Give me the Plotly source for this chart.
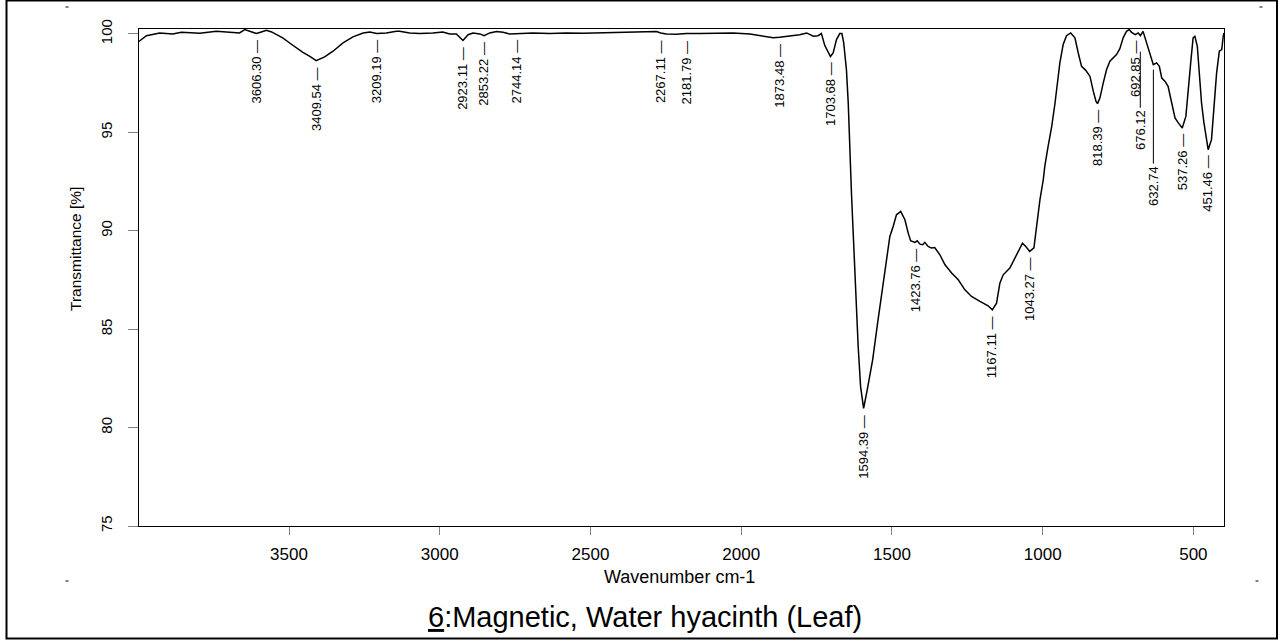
import plotly.graph_objects as go

# ---------------- data ----------------
wavenumber = [
    3998, 3973, 3929, 3886, 3857, 3796, 3741, 3687, 3664, 3647, 3620, 3608, 3592, 3575, 3558,
    3542, 3521, 3498, 3475, 3454, 3431, 3410, 3382, 3354, 3321, 3288, 3254, 3232, 3209, 3177,
    3144, 3133, 3100, 3066, 3023, 2990, 2967, 2945, 2923, 2906, 2890, 2867, 2853, 2834, 2812,
    2790, 2768, 2744, 2691, 2635, 2580, 2525, 2469, 2414, 2359, 2303, 2281, 2267, 2248, 2215,
    2182, 2137, 2082, 2027, 1971, 1927, 1894, 1873, 1839, 1806, 1783, 1761, 1745, 1734, 1723,
    1704, 1695, 1684, 1673, 1666, 1660, 1651, 1645, 1640, 1634, 1629, 1620, 1612, 1604, 1594,
    1582, 1564, 1546, 1529, 1518, 1507, 1496, 1485, 1471, 1457, 1446, 1438, 1424, 1416, 1407,
    1398, 1391, 1380, 1369, 1358, 1341, 1324, 1302, 1280, 1258, 1236, 1208, 1181, 1167, 1153,
    1142, 1131, 1109, 1092, 1076, 1067, 1056, 1043, 1029, 1020, 1009, 998, 993, 982, 970,
    959, 952, 943, 932, 921, 907, 893, 882, 871, 857, 843, 832, 823, 818, 810,
    799, 788, 777, 766, 755, 744, 733, 722, 713, 705, 693, 683, 676, 667, 655,
    644, 633, 622, 613, 605, 594, 584, 572, 561, 550, 537, 525, 517, 509, 501,
    495, 487, 481, 473, 465, 456, 451, 440, 432, 423, 414, 406, 401, 399,
]
transmittance = [
    99.62, 99.91, 100.05, 100.00, 100.08, 100.03, 100.13, 100.10, 100.05, 100.22, 100.08, 100.02, 100.10, 100.18, 100.10,
    99.96, 99.80, 99.54, 99.29, 99.06, 98.86, 98.64, 98.83, 99.12, 99.54, 99.85, 100.05, 100.10, 100.02, 100.05,
    100.13, 100.13, 100.05, 100.02, 100.05, 100.10, 100.00, 100.00, 99.67, 99.96, 100.05, 100.00, 99.91, 100.05, 100.12,
    100.08, 100.00, 100.02, 100.05, 100.02, 100.05, 100.03, 100.05, 100.07, 100.08, 100.12, 100.12, 100.05, 100.00, 99.98,
    100.02, 100.02, 100.03, 100.05, 100.00, 99.88, 99.80, 99.83, 99.88, 99.96, 100.05, 99.88, 99.91, 100.02, 99.42,
    98.85, 99.03, 99.71, 100.02, 100.02, 99.54, 98.19, 96.49, 93.95, 91.80, 90.05, 86.66, 84.12, 82.08, 80.98,
    81.92, 83.44, 85.48, 87.34, 88.53, 89.71, 90.22, 90.81, 90.98, 90.56, 89.88, 89.49, 89.41, 89.49, 89.32,
    89.29, 89.41, 89.20, 89.12, 89.15, 88.78, 88.27, 87.85, 87.51, 87.00, 86.66, 86.41, 86.19, 85.98, 86.32,
    87.34, 87.76, 88.10, 88.61, 89.12, 89.37, 89.20, 88.95, 89.13, 90.30, 91.58, 92.59, 93.27, 94.29, 95.30,
    96.49, 97.34, 98.53, 99.46, 99.91, 100.05, 99.80, 99.03, 98.35, 98.15, 97.84, 97.08, 96.57, 96.46, 96.75,
    97.51, 98.19, 98.61, 98.78, 98.95, 99.25, 99.80, 100.13, 100.22, 100.08, 99.96, 100.05, 99.91, 100.13, 99.54,
    98.95, 98.44, 98.53, 98.35, 97.76, 97.59, 97.34, 96.49, 95.73, 95.48, 95.22, 95.81, 97.00, 98.53, 99.80,
    99.88, 99.37, 98.19, 96.49, 95.48, 94.63, 94.12, 94.63, 96.15, 98.02, 99.12, 99.20, 99.88, 100.05,
]

peak_wn = [3606.30, 3409.54, 3209.19, 2923.11, 2853.22, 2744.14, 2267.11, 2181.79, 1873.48, 1703.68,
           1594.39, 1423.76, 1167.11, 1043.27, 818.39, 692.85, 676.12, 632.74, 537.26, 451.46]
peak_t = [100.02, 98.64, 100.02, 99.67, 99.91, 100.02, 100.00, 99.99, 99.83, 98.86,
          80.98, 89.41, 85.98, 88.95, 96.46, 99.96, 99.91, 98.44, 95.22, 94.12]

x_tick_vals = [3500, 3000, 2500, 2000, 1500, 1000, 500]
y_tick_vals = [75, 80, 85, 90, 95, 100]

x_title = "Wavenumber cm-1"
y_title = "Transmittance [%]"
chart_title = "<u>6</u>:Magnetic, Water hyacinth (Leaf)"

# ---------------- layout helpers ----------------
W, H = 1283, 641
ML, MR, MT, MB = 139, 59, 29, 115
PW, PH = W - ML - MR, H - MT - MB
FONT = "Liberation Sans, Arial, Helvetica, sans-serif"


def px_x(x):
    return (x - ML) / PW


def px_y(y):
    return (H - MB - y) / PH


fig = go.Figure()
fig.add_trace(go.Scatter(
    x=wavenumber, y=transmittance, mode="lines",
    line=dict(color="black", width=1.5), showlegend=False, hoverinfo="x+y",
))

# crowded labels get a leader line: (line start px, line end px) below the curve
leaders = {676.12: (16, 72), 632.74: (5, 99)}

annotations = []
shapes = []
for wn, t in zip(peak_wn, peak_t):
    lab = f"{wn:.2f}"
    if wn in leaders:
        s0, s1 = leaders[wn]
        shapes.append(dict(
            type="line", xref="x", yref="y", ysizemode="pixel", yanchor=t,
            x0=wn, x1=wn, y0=-s0, y1=-s1, line=dict(color="black", width=1),
        ))
        annotations.append(dict(
            x=wn, y=t, xref="x", yref="y", text=lab, textangle=-90,
            showarrow=False, xanchor="center", yanchor="top", yshift=-(s1 + 1),
            font=dict(family=FONT, size=13, color="black"), borderpad=0,
        ))
    else:
        annotations.append(dict(
            x=wn, y=t, xref="x", yref="y", text=lab + " \u2014", textangle=-90,
            showarrow=False, xanchor="center", yanchor="top", yshift=-5,
            font=dict(family=FONT, size=13, color="black"), borderpad=0,
        ))

annotations.append(dict(
    x=px_x(679), y=px_y(577), xref="paper", yref="paper", text=x_title,
    showarrow=False, xanchor="center", yanchor="middle",
    font=dict(family=FONT, size=18, color="black"),
))
annotations.append(dict(
    x=px_x(75), y=px_y(249), xref="paper", yref="paper", text=y_title,
    textangle=-90, showarrow=False, xanchor="center", yanchor="middle",
    font=dict(family=FONT, size=15.5, color="black"),
))
annotations.append(dict(
    x=px_x(645), y=px_y(617), xref="paper", yref="paper", text=chart_title,
    showarrow=False, xanchor="center", yanchor="middle",
    font=dict(family=FONT, size=29, color="black"),
))

# outer frame of the picture
shapes.append(dict(type="rect", xref="paper", yref="paper",
                   x0=px_x(6.5), x1=px_x(1277), y0=px_y(638.5), y1=px_y(0.5),
                   line=dict(color="black", width=2), layer="above"))
# tiny corner marks
for cx, cy in [(67, 7), (1261, 7), (67, 581), (1257, 581)]:
    shapes.append(dict(type="line", xref="paper", yref="paper",
                       x0=px_x(cx - 1.5), x1=px_x(cx + 1.5), y0=px_y(cy), y1=px_y(cy),
                       line=dict(color="black", width=1)))

fig.update_layout(
    width=W, height=H,
    margin=dict(l=ML, r=MR, t=MT, b=MB, pad=0),
    paper_bgcolor="white", plot_bgcolor="white",
    showlegend=False,
    annotations=annotations,
    shapes=shapes,
    font=dict(family=FONT, color="black"),
)
fig.update_xaxes(
    range=[3997.7, 398.5], tickmode="array", tickvals=x_tick_vals,
    ticktext=[str(v) for v in x_tick_vals],
    ticks="outside", ticklen=8, tickwidth=1, tickcolor="#808080",
    showline=True, linecolor="black", linewidth=1, mirror=True,
    showgrid=False, zeroline=False,
    tickfont=dict(family=FONT, size=17, color="black"),
    ticklabelstandoff=5,
)
fig.update_yaxes(
    range=[75, 100.25], tickmode="array", tickvals=y_tick_vals,
    ticktext=[str(v) for v in y_tick_vals], tickangle=-90,
    ticks="outside", ticklen=10, tickwidth=1, tickcolor="#808080",
    showline=True, linecolor="black", linewidth=1, mirror=True,
    showgrid=False, zeroline=False,
    tickfont=dict(family=FONT, size=15, color="black"),
    ticklabelstandoff=10,
)

fig.write_html(
    "out.html",
    config={"displayModeBar": False},
    post_script="document.body.style.margin='0px';document.body.style.overflow='hidden';",
)
